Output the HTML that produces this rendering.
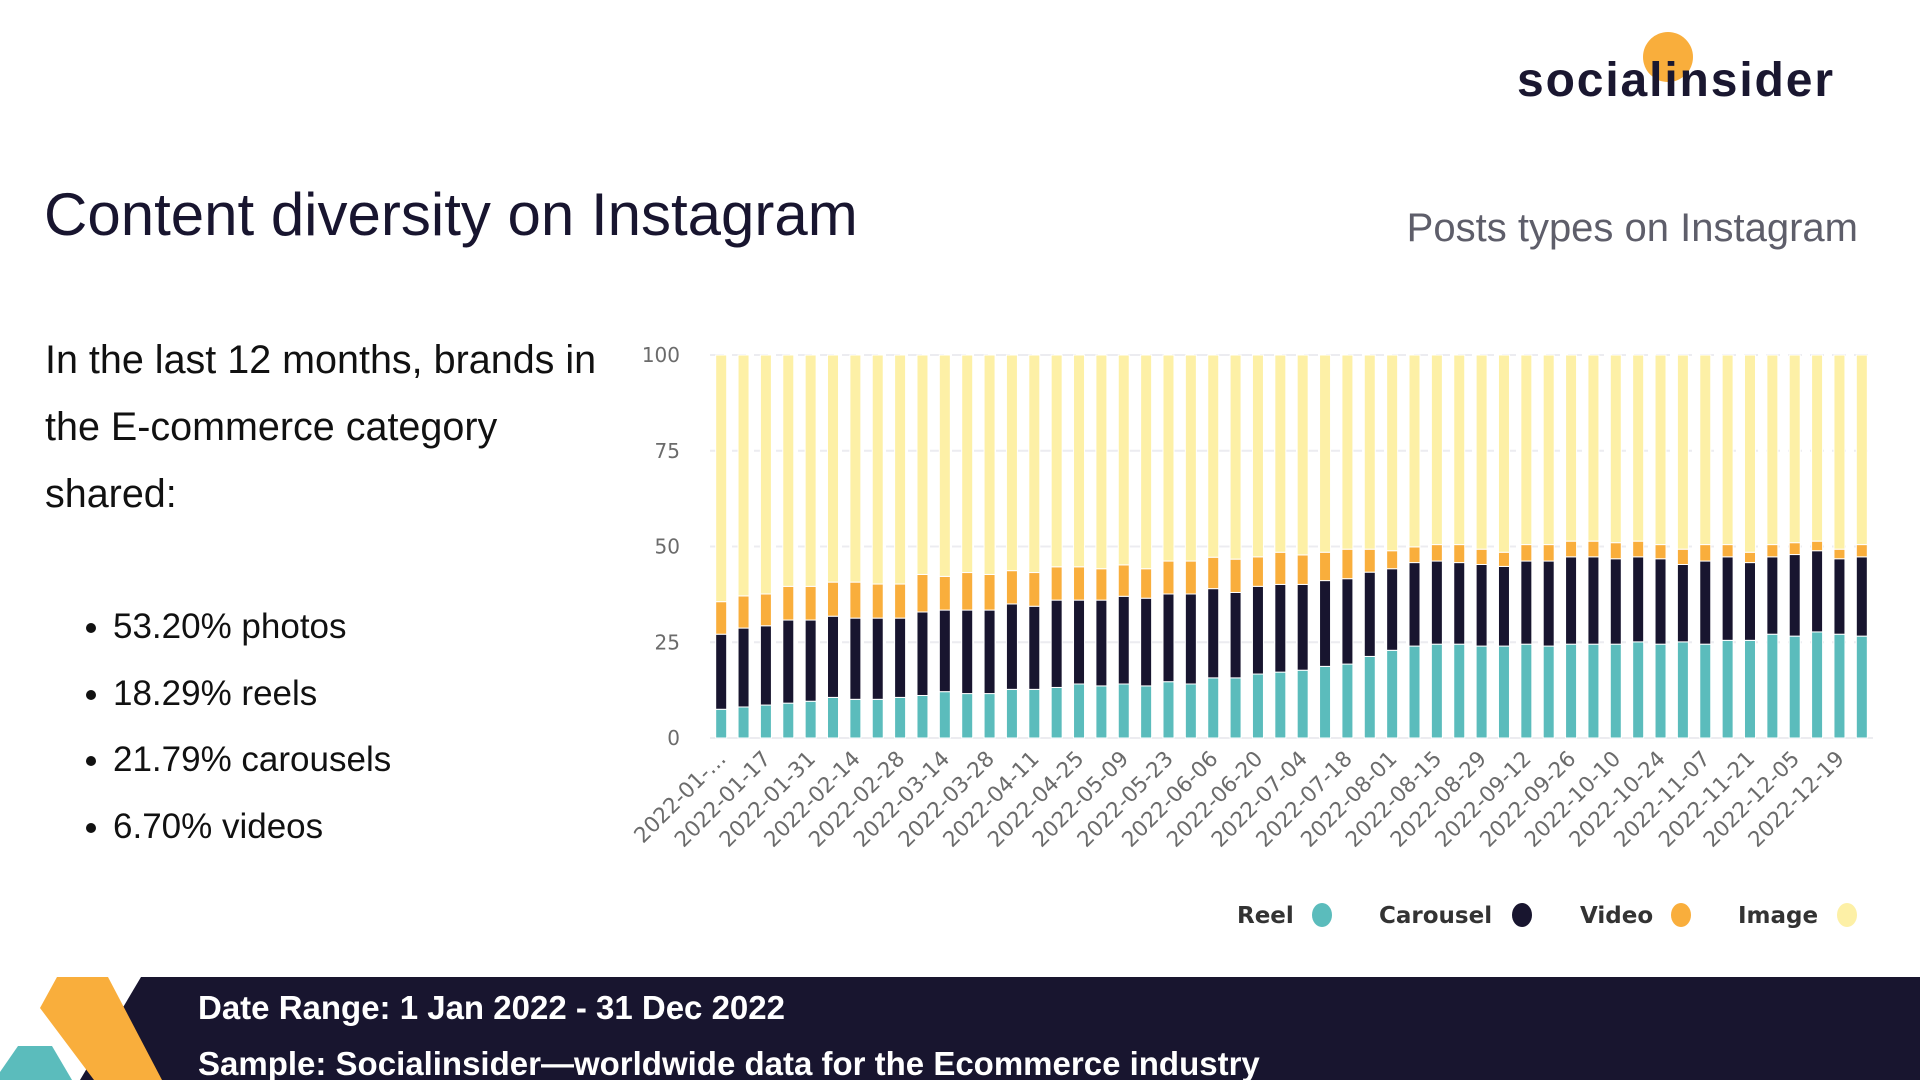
<!DOCTYPE html>
<html><head><meta charset="utf-8"><style>
html,body{margin:0;padding:0;background:#fff;}
body{width:1920px;height:1080px;overflow:hidden;position:relative;font-family:"Liberation Sans",sans-serif;}
.abs{position:absolute;white-space:nowrap;}
</style></head><body>
<svg id="chart" width="1920" height="1080" style="position:absolute;left:0;top:0">
  <g>
    <polygon points="141,977 1920,977 1920,1080 80,1080" fill="#18152f"/>
    <polygon points="18,1046 52,1046 72,1080 0,1080 0,1072" fill="#5bbcbc"/>
    <polygon points="57,977 108,977 162,1080 94,1080 40,1008" fill="#f9ae3c"/>
    <text x="198" y="1019" fill="#fff" font-family="Liberation Sans, sans-serif" font-weight="bold" font-size="33">Date Range: 1 Jan 2022 - 31 Dec 2022</text>
    <text x="198" y="1075" fill="#fff" font-family="Liberation Sans, sans-serif" font-weight="bold" font-size="33">Sample: Socialinsider—worldwide data for the Ecommerce industry</text>
  </g>
  <g>
    <circle cx="1668" cy="57" r="25" fill="#f9ae3c"/>
    <text x="1517" y="96" fill="#1a1730" font-family="Liberation Sans, sans-serif" font-weight="bold" font-size="48" textLength="316">socialinsider</text>
  </g>
  <g id="grid"></g>
  <g id="bars"></g>
  <g id="xlabels"></g>
  <g id="legend"></g>
</svg>
<div class="abs" style="left:44px;top:180px;font-size:60px;color:#18152f;">Content diversity on Instagram</div>
<div class="abs" style="right:62px;top:206px;font-size:40px;color:#5e5e6a;">Posts types on Instagram</div>
<div class="abs" style="left:45px;top:327px;font-size:39.5px;line-height:67px;color:#111;">In the last 12 months, brands in<br>the E-commerce category<br>shared:</div>
<ul style="position:absolute;left:68px;top:594px;margin:0;padding:0 0 0 45px;font-size:35px;line-height:66.5px;color:#111;">
  <li>53.20% photos</li>
  <li>18.29% reels</li>
  <li>21.79% carousels</li>
  <li>6.70% videos</li>
</ul>
<script>
const reel=[7.5,8.1,8.6,9.1,9.6,10.6,10.1,10.1,10.6,11.1,12.1,11.6,11.6,12.7,12.7,13.2,14.1,13.6,14.1,13.6,14.7,14.1,15.7,15.7,16.7,17.2,17.7,18.7,19.3,21.3,22.9,24.0,24.5,24.5,24.0,24.0,24.5,24.0,24.5,24.5,24.5,25.1,24.5,25.1,24.5,25.5,25.5,27.1,26.6,27.7,27.1,26.6];
const carousel=[19.6,20.6,20.7,21.7,21.2,21.2,21.2,21.2,20.7,21.8,21.3,21.8,21.8,22.3,21.7,22.8,21.9,22.4,22.9,22.9,22.9,23.5,23.3,22.3,22.9,22.9,22.4,22.4,22.3,22.0,21.3,21.8,21.7,21.3,21.3,20.8,21.7,22.2,22.8,22.8,22.3,22.2,22.3,20.2,21.7,21.8,20.3,20.2,21.3,21.2,19.7,20.7];
const video=[8.5,8.4,8.3,8.8,8.8,8.9,9.4,8.9,8.9,9.8,8.8,9.8,9.3,8.7,8.8,8.7,8.7,8.2,8.2,7.7,8.6,8.6,8.2,8.7,7.7,8.4,7.7,7.4,7.7,6.0,4.7,4.1,4.3,4.7,4.0,3.7,4.3,4.3,4.1,4.1,4.2,4.1,3.7,4.0,4.3,3.2,2.7,3.2,3.1,2.5,2.5,3.2];
const image=[64.4,62.9,62.4,60.4,60.4,59.3,59.3,59.8,59.8,57.3,57.8,56.8,57.3,56.3,56.8,55.3,55.3,55.8,54.8,55.8,53.8,53.8,52.8,53.3,52.7,51.5,52.2,51.5,50.7,50.7,51.1,50.1,49.5,49.5,50.7,51.5,49.5,49.5,48.6,48.6,49.0,48.6,49.5,50.7,49.5,49.5,51.5,49.5,49.0,48.6,50.7,49.5];
const yTicks=[0,25,50,75,100];
const seriesNames=["Reel","Carousel","Video","Image"];
const seriesColors=["#5bbcbc","#18152f","#f9ae3c","#fdf0a6"];

const NS="http://www.w3.org/2000/svg";
const X0=710,X1=1873,Y0=738,Y1=355,BW=11;
const n=reel.length;
const band=(X1-X0)/n;
function xPos(i){return X0+band*i+(band-BW)/2;}
function yPos(v){return Y0-(v/100)*(Y0-Y1);}
function mk(tag,attrs,parent){const e=document.createElementNS(NS,tag);for(const k in attrs)e.setAttribute(k,attrs[k]);parent.appendChild(e);return e;}

const grid=document.getElementById('grid');
yTicks.forEach(t=>{
  const l=mk('line',{x1:X0,x2:X1,y1:yPos(t),y2:yPos(t),stroke:'#ececf0','stroke-width':2,'stroke-dasharray':t===0?'none':'14 8'},grid);
  
  
  const tx=mk('text',{x:680,y:yPos(t)+7,'text-anchor':'end','font-size':20,fill:'#6b6b6b','font-family':'DejaVu Sans, sans-serif'},grid);
  tx.textContent=t;
  
  
});

const bars=document.getElementById('bars');
const series=[reel,carousel,video,image];
for(let i=0;i<n;i++){
  let base=0;
  series.forEach((s,k)=>{
    const v=s[i];
    const r=mk('rect',{x:xPos(i),y:yPos(base+v),width:BW,height:yPos(base)-yPos(base+v),fill:seriesColors[k],stroke:'#fff','stroke-width':1},bars);
    
    
    base+=v;
  });
}

const xl=document.getElementById('xlabels');
const start=new Date(Date.UTC(2022,0,3));
for(let i=0;i<n;i+=2){
  const d=new Date(start.getTime()+i*7*86400000);
  let s=d.toISOString().slice(0,10);
  if(i===0)s='2022-01-…';
  const cx=xPos(i)+BW/2+6,cy=Y0+22;
  const t=mk('text',{x:cx,y:cy,'text-anchor':'end','font-size':21.5,fill:'#6b6b6b','font-family':'DejaVu Sans, sans-serif',transform:'rotate(-45 '+cx+' '+cy+')'},xl);
  t.textContent=s;
  
  
}

const lg=document.getElementById('legend');
const lx=[1237,1379,1580,1738],dx=[1322,1522,1681,1847];
seriesNames.forEach((nm,k)=>{
  const t=mk('text',{x:lx[k],y:923,'font-size':23,'font-weight':'bold',fill:'#333','font-family':'DejaVu Sans, sans-serif'},lg);
  t.textContent=nm;
  
  
  const c=mk('ellipse',{cx:dx[k],cy:915,rx:10,ry:12,fill:seriesColors[k]},lg);
  
  
});
</script>
</body></html>
